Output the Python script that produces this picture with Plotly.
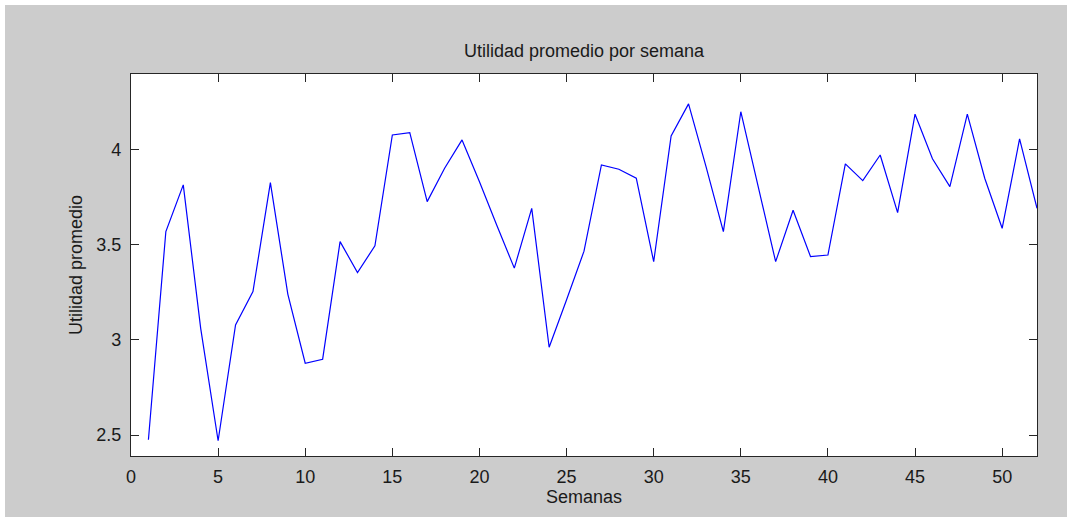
import plotly.graph_objects as go

semanas = list(range(1, 53))
utilidad = [2.475, 3.568, 3.813, 3.06, 2.47, 3.078, 3.253, 3.825, 3.24, 2.877,
            2.898, 3.515, 3.353, 3.493, 4.075, 4.087, 3.725, 3.900, 4.049, 3.83,
            3.60, 3.376, 3.690, 2.961, 3.21, 3.465, 3.918, 3.895, 3.848, 3.41,
            4.07, 4.238, 3.91, 3.568, 4.197, 3.80, 3.41, 3.68, 3.437, 3.445,
            3.923, 3.835, 3.970, 3.667, 4.184, 3.95, 3.804, 4.184, 3.848, 3.585,
            4.054, 3.69]
x_ticks = [0, 5, 10, 15, 20, 25, 30, 35, 40, 45, 50]
y_ticks = [2.5, 3, 3.5, 4]
y_tick_text = ["2.5", "3", "3.5", "4"]

W, H = 1067, 517
L, R, T, B = 131, 30, 74, 61
pw, ph = W - L - R, H - T - B

FONT = "Liberation Sans, Arial, sans-serif"
TXT = "#1a1a1a"
AX = "#262626"

fig = go.Figure()
fig.add_trace(go.Scatter(x=semanas, y=utilidad, mode="lines",
                         line=dict(color="#0000ff", width=1.2),
                         showlegend=False, hoverinfo="x+y"))

axis_common = dict(showline=True, linecolor=AX, linewidth=1.2, mirror="ticks",
                   ticks="inside", ticklen=8, tickcolor=AX, tickwidth=1.2,
                   showgrid=False, zeroline=False,
                   tickfont=dict(family=FONT, size=18, color=TXT))

fig.update_layout(
    width=W, height=H,
    margin=dict(l=L, r=R, t=T, b=B, pad=0),
    paper_bgcolor="#cccccc",
    plot_bgcolor="#ffffff",
    font=dict(family=FONT, size=18, color=TXT),
    title=dict(text="Utilidad promedio por semana", x=(L + pw / 2) / W, xanchor="center",
               y=1 - 51 / H, yanchor="middle",
               font=dict(family=FONT, size=18, color=TXT)),
    xaxis=dict(range=[0, 52], tickvals=x_ticks, ticklabelstandoff=4,
               title=dict(text="Semanas", standoff=4,
                          font=dict(family=FONT, size=18, color=TXT)),
               **axis_common),
    yaxis=dict(range=[2.39, 4.395], tickvals=y_ticks, ticktext=y_tick_text,
               ticklabelstandoff=5,
               title=dict(text="Utilidad promedio", standoff=8,
                          font=dict(family=FONT, size=18, color=TXT)),
               **axis_common),
)

# white outer border strips (top and left edges of the screenshot)
fig.add_shape(type="rect", xref="paper", yref="paper", layer="above",
              x0=-L / pw - 0.01, x1=(5 - L) / pw, y0=-B / ph - 0.01, y1=(H - B) / ph + 0.01,
              fillcolor="#ffffff", line=dict(width=0))
fig.add_shape(type="rect", xref="paper", yref="paper", layer="above",
              x0=-L / pw - 0.01, x1=1 + R / pw + 0.01, y0=(H - B - 5) / ph, y1=(H - B) / ph + 0.01,
              fillcolor="#ffffff", line=dict(width=0))

fig.write_html("out.html")
